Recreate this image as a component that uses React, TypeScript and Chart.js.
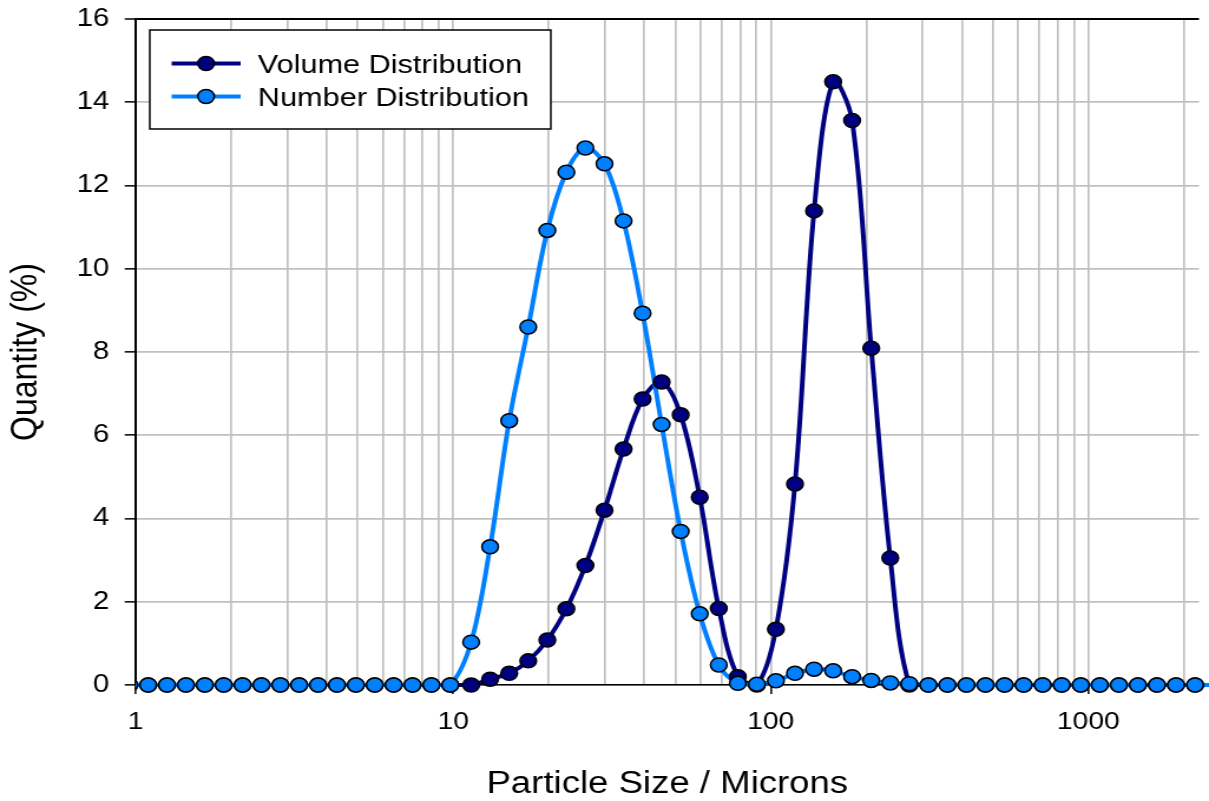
import React, { useEffect, useRef } from 'react';
import { Chart, registerables } from 'chart.js';

Chart.register(...registerables);

// Particle sizes (microns)
const SIZES = [
  0.955, 1.095, 1.255, 1.44, 1.651, 1.893, 2.171, 2.49, 2.855, 3.273, 3.754, 4.305, 4.938, 5.661, 6.492, 7.445, 8.537, 9.79,
  11.39, 13.07, 15.01, 17.23, 19.79, 22.72, 26.08, 29.95, 34.39, 39.48, 45.33, 52.04, 59.75, 68.6, 78.77, 90.44,
  103.8, 119.2, 136.9, 157.2, 180.4, 207.2, 237.9, 273.1, 313.6, 360.0, 413.3, 474.6, 544.9, 625.6, 718.3, 824.7,
  946.9, 1087, 1248, 1433, 1645, 1889, 2169, 2490,
];

// Volume distribution (%)
const VOLUME = [
  0, 0, 0, 0, 0, 0, 0, 0, 0, 0, 0, 0, 0, 0, 0, 0, 0, 0,
  0, 0.14, 0.28, 0.58, 1.08, 1.83, 2.87, 4.2, 5.67, 6.87, 7.28, 6.49, 4.51, 1.84, 0.2, 0,
  1.34, 4.83, 11.39, 14.49, 13.56, 8.09, 3.05, 0, 0, 0, 0, 0, 0, 0, 0, 0,
  0, 0, 0, 0, 0, 0, 0, 0,
];

// Number distribution (%)
const NUMBER = [
  0, 0, 0, 0, 0, 0, 0, 0, 0, 0, 0, 0, 0, 0, 0, 0, 0, 0,
  1.03, 3.32, 6.35, 8.6, 10.92, 12.32, 12.9, 12.52, 11.15, 8.93, 6.26, 3.69, 1.71, 0.48, 0.04, 0.02,
  0.1, 0.28, 0.38, 0.34, 0.2, 0.11, 0.05, 0.03, 0, 0, 0, 0, 0, 0, 0, 0,
  0, 0, 0, 0, 0, 0, 0, 0,
];

const SERIES_LABELS = ['Volume Distribution', 'Number Distribution'];
const SERIES_COLORS = ['#000080', '#0080ff'];

const Y_MIN = 0;
const Y_MAX = 16;
const Y_STEP = 2;
const X_MIN = 1;
const X_MAX = 2231;

const X_TITLE = 'Particle Size / Microns';
const Y_TITLE = 'Quantity (%)';

const FONT_FAMILY = '"Liberation Sans", Arial, Helvetica, sans-serif';

const W = 1025;
const H = 801;
const SX = 1209 / W;

const isDecade = (v: number) => {
  const l = Math.log10(v);
  return Math.abs(l - Math.round(l)) < 1e-9;
};
const isNice = (v: number) => {
  const p = Math.pow(10, Math.floor(Math.log10(v) + 1e-9));
  const s = v / p;
  return Math.abs(s - Math.round(s)) < 1e-6;
};

const boxLegend = {
  id: 'boxLegend',
  afterDraw(chart: any) {
    const ctx = chart.ctx as CanvasRenderingContext2D;
    const items = chart.data.datasets.filter((d: any) => d.isLegend);
    ctx.save();
    ctx.fillStyle = '#ffffff';
    ctx.fillRect(127, 30, 340, 99);
    ctx.strokeStyle = '#000000';
    ctx.lineWidth = 1.5;
    ctx.strokeRect(127, 30, 340, 99);
    items.forEach((d: any, i: number) => {
      const y = 63.5 + 33 * i;
      ctx.strokeStyle = d.pointBackgroundColor;
      ctx.lineWidth = 4;
      ctx.beginPath();
      ctx.moveTo(145.5, y);
      ctx.lineTo(204, y);
      ctx.stroke();
      ctx.beginPath();
      ctx.arc(174.7, y, 7, 0, Math.PI * 2);
      ctx.fillStyle = d.pointBackgroundColor;
      ctx.fill();
      ctx.lineWidth = 1.5;
      ctx.strokeStyle = '#000000';
      ctx.stroke();
      ctx.fillStyle = '#000000';
      ctx.font = `26px ${FONT_FAMILY}`;
      ctx.textBaseline = 'middle';
      ctx.textAlign = 'left';
      ctx.fillText(d.label, 218.6, y + 2);
    });
    ctx.restore();
  },
};

export default function App() {
  const ref = useRef<HTMLCanvasElement>(null);

  useEffect(() => {
    document.body.style.margin = '0';
    const canvas = ref.current;
    if (!canvas) return;
    Chart.defaults.color = '#000';
    Chart.defaults.font.family = FONT_FAMILY;

    const volumePts = SIZES.map((x, i) => ({ x, y: VOLUME[i] }));
    const numberPts = SIZES.map((x, i) => ({ x, y: NUMBER[i] }));
    const clip = { left: 0, top: 0, right: false, bottom: false } as any;

    const chart = new Chart(canvas, {
      type: 'scatter',
      data: {
        datasets: [
          {
            label: SERIES_LABELS[0], data: volumePts, showLine: true, borderColor: SERIES_COLORS[0],
            borderWidth: 4, pointRadius: 0, tension: 0.35, order: 4, clip,
          } as any,
          {
            label: SERIES_LABELS[1], data: numberPts, showLine: true, borderColor: SERIES_COLORS[1],
            borderWidth: 4, pointRadius: 0, tension: 0.35, order: 3, clip,
          } as any,
          {
            label: SERIES_LABELS[0], data: volumePts, showLine: false, pointRadius: 7,
            pointBackgroundColor: SERIES_COLORS[0], pointBorderColor: '#000', pointBorderWidth: 1.5,
            order: 2, clip, isLegend: true,
          } as any,
          {
            label: SERIES_LABELS[1], data: numberPts, showLine: false, pointRadius: 7,
            pointBackgroundColor: SERIES_COLORS[1], pointBorderColor: '#000', pointBorderWidth: 1.5,
            order: 1, clip, isLegend: true,
          } as any,
        ],
      },
      options: {
        responsive: false,
        devicePixelRatio: 1,
        animation: false,
        events: [],
        layout: { padding: { top: 19, left: 0, right: 0, bottom: 0 } },
        plugins: { legend: { display: false }, tooltip: { enabled: false } },
        scales: {
          x: {
            type: 'logarithmic',
            min: X_MIN,
            max: X_MAX,
            afterFit: (s: any) => {
              s.height = 116;
              s.paddingLeft = 0;
              s.paddingRight = 0;
            },
            afterBuildTicks: (s: any) => {
              s.ticks = s.ticks.filter((t: any) => isNice(t.value) && t.value <= X_MAX);
            },
            grid: {
              color: '#c0c0c0',
              lineWidth: 1.7,
              tickLength: 9,
              tickWidth: 1.5,
              tickColor: (ctx: any) => (ctx.tick && isDecade(ctx.tick.value) ? '#000' : 'rgba(0,0,0,0)'),
            },
            border: { color: '#000', width: 1.5 },
            ticks: {
              autoSkip: false,
              maxRotation: 0,
              padding: 14,
              font: { size: 24 },
              callback: (v: any) => (isDecade(Number(v)) ? String(Number(v)) : ''),
            },
            title: {
              display: true,
              text: X_TITLE,
              font: { size: 31, lineHeight: 1 },
              padding: { top: 0, bottom: 1 },
            },
          } as any,
          y: {
            min: Y_MIN,
            max: Y_MAX,
            afterFit: (s: any) => {
              s.width = 115;
              s.paddingTop = 0;
              s.paddingBottom = 0;
            },
            grid: {
              color: (ctx: any) => (ctx.tick && ctx.tick.value === Y_MAX ? '#000' : '#c0c0c0'),
              lineWidth: (ctx: any) => (ctx.tick && ctx.tick.value === Y_MAX ? 2 : 1.7),
              tickLength: 9.3,
              tickWidth: 1.5,
              tickColor: '#000',
            },
            border: { color: '#000', width: 2 },
            ticks: { stepSize: Y_STEP, padding: 13, font: { size: 25 } },
            title: {
              display: true,
              text: Y_TITLE,
              font: { size: 32, lineHeight: 1.2 },
              padding: { top: 3, bottom: 0 },
            },
          } as any,
        },
      },
      plugins: [boxLegend],
    });
    return () => chart.destroy();
  }, []);

  return (
    <div style={{ width: 1209, height: 801, overflow: 'hidden', background: '#fff' }}>
      <div style={{ width: W, height: H, transform: `scaleX(${SX})`, transformOrigin: '0 0' }}>
        <canvas ref={ref} width={W} height={H} style={{ width: W, height: H, display: 'block' }} />
      </div>
    </div>
  );
}
